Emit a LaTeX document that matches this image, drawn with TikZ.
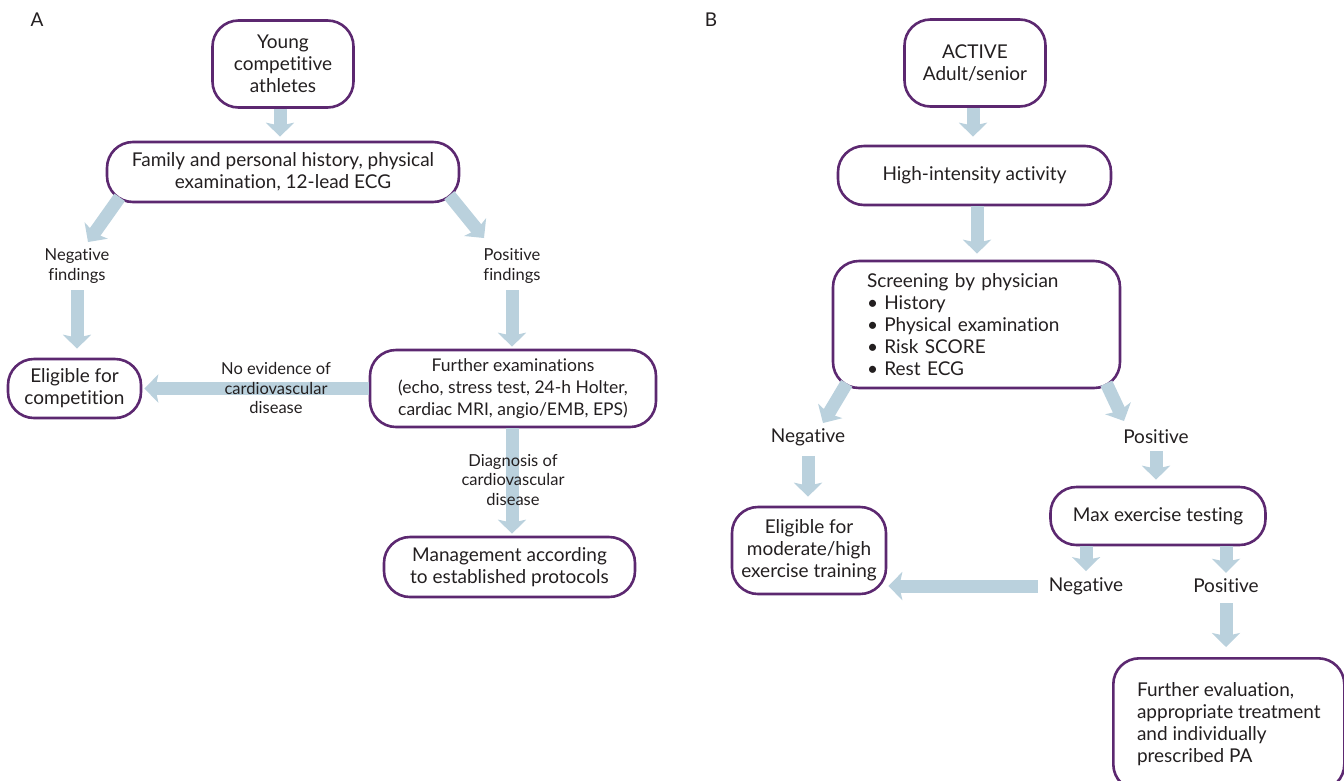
\documentclass[tikz,border=0pt]{standalone}
\usepackage{fontspec}
\setmainfont{Lato}[Ligatures=NoCommon]
\usetikzlibrary{arrows.meta,calc}
\definecolor{boxpurple}{RGB}{92,40,112}
\definecolor{arrowblue}{RGB}{186,209,221}
\definecolor{txt}{RGB}{35,31,32}
\begin{document}
\begin{tikzpicture}[x=1pt,y=-1pt,
 box/.style={draw=boxpurple, line width=2.6pt, rounded corners=26pt, align=center,
   font=\fontsize{19}{22}\selectfont, text=txt, inner sep=0pt},
 lbl/.style={font=\fontsize{16.5}{19.5}\selectfont, align=center, text=txt, inner sep=0pt},
 lblb/.style={font=\fontsize{19}{22}\selectfont, text=txt, inner sep=0pt},
 panel/.style={font=\fontsize{19}{22}\selectfont, text=txt, inner sep=0pt},
 fat/.style={draw=arrowblue, line width=13pt, -{Stealth[width=28pt,length=14pt,inset=3pt]}},
]
\useasboundingbox (0,0) rectangle (1344,780);

% ---------- Panel A ----------
\node[panel] (pA) at (37,20) {A};
\node[box, minimum width=141, minimum height=87] (young) at (283,64) {Young\\competitive\\athletes};
\node[box, minimum width=352, minimum height=60] (fam) at (283,172) {Family and personal history, physical\\examination, 12-lead ECG};
\node[lbl] (negA) at (77,266) {Negative\\findings};
\node[lbl] (posA) at (512,266) {Positive\\findings};
\node[box, minimum width=133, minimum height=59] (eligA) at (74.5,388.5) {Eligible for\\competition};
\node[box, minimum width=286, minimum height=77, font=\fontsize{17.5}{22}\selectfont] (further) at (513,388.5) {Further examinations\\(echo, stress test, 24-h Holter,\\cardiac MRI, angio/EMB, EPS)};
\node[box, minimum width=251, minimum height=60] (mgmt) at (509.5,567) {Management according\\to established protocols};

\draw[fat, shorten >=4pt] (young.south -| 280,0) -- (fam.north -| 280,0);
\draw[fat] ($(fam.south west)+(14,-6)$) -- ($(negA)+(11,-24)$);
\draw[fat] ($(fam.south east)+(-11,-8)$) -- ($(posA)+(-28,-28)$);
\draw[fat, shorten <=7pt, shorten >=9pt] (negA.south) -- (negA.south |- eligA.north);
\draw[fat, shorten <=7pt, shorten >=2pt] (posA.south) -- (posA.south |- further.north);
\draw[fat, shorten >=2pt] (further.west) -- (eligA.east);
\draw[fat, shorten >=2pt] (further.south -| 512,0) -- (mgmt.north -| 512,0);

\node[lbl] (noev) at (276,388) {No evidence of\\cardiovascular\\disease};
\node[lbl] (diag) at (513,480) {Diagnosis of\\cardiovascular\\disease};

% ---------- Panel B ----------
\node[panel] (pB) at (711,20) {B};
\node[box, minimum width=141, minimum height=87] (active) at (975,63) {ACTIVE\\Adult/senior};
\node[box, minimum width=273, minimum height=59] (high) at (974.5,175.5) {High-intensity activity};
\node[box, minimum width=287, minimum height=127, inner xsep=34pt, text width=219pt, align=left] (screen) at (976.5,324.5)
  {Screening by physician\\• History\\• Physical examination\\• Risk SCORE\\• Rest ECG};
\node[lblb] (negB) at (808,437) {Negative};
\node[lblb] (posB) at (1156,437) {Positive};
\node[box, minimum width=154, minimum height=87] (eligB) at (809,550.5) {Eligible for\\moderate/high\\exercise training};
\node[box, minimum width=215, minimum height=58] (maxB) at (1158,516) {Max exercise testing};
\node[lblb] (neg2) at (1086,586) {Negative};
\node[lblb] (pos2) at (1226,586) {Positive};
\node[box, minimum width=231, minimum height=132, align=left, anchor=north west] (furtherB) at (1112,657)
  {Further evaluation,\\appropriate treatment\\and individually\\prescribed PA};

\draw[fat, shorten >=8pt] (active.south -| 973,0) -- (high.north -| 973,0);
\draw[fat, shorten >=6pt] (high.south -| 977,0) -- (screen.north -| 977,0);
\draw[fat] ($(screen.south west)+(15,-6)$) -- ($(negB)+(15,-14)$);
\draw[fat] ($(screen.south east)+(-15,-6)$) -- ($(posB)+(-32,-16)$);
\draw[fat, shorten <=10pt, shorten >=9pt] (negB.south) -- (negB.south |- eligB.north);
\draw[fat, shorten <=7pt, shorten >=6pt] (posB.south) -- (posB.south |- maxB.north);
\draw[fat, shorten >=6pt] (maxB.south -| neg2.north) -- (neg2.north);
\draw[fat, shorten >=6pt] (maxB.south -| pos2.north) -- (pos2.north);
\draw[fat, shorten <=11pt, shorten >=1pt] (neg2.west) -- (neg2.west -| eligB.east);
\draw[fat, shorten <=10pt, shorten >=10pt] (pos2.south) -- (pos2.south |- furtherB.north);
\end{tikzpicture}
\end{document}
